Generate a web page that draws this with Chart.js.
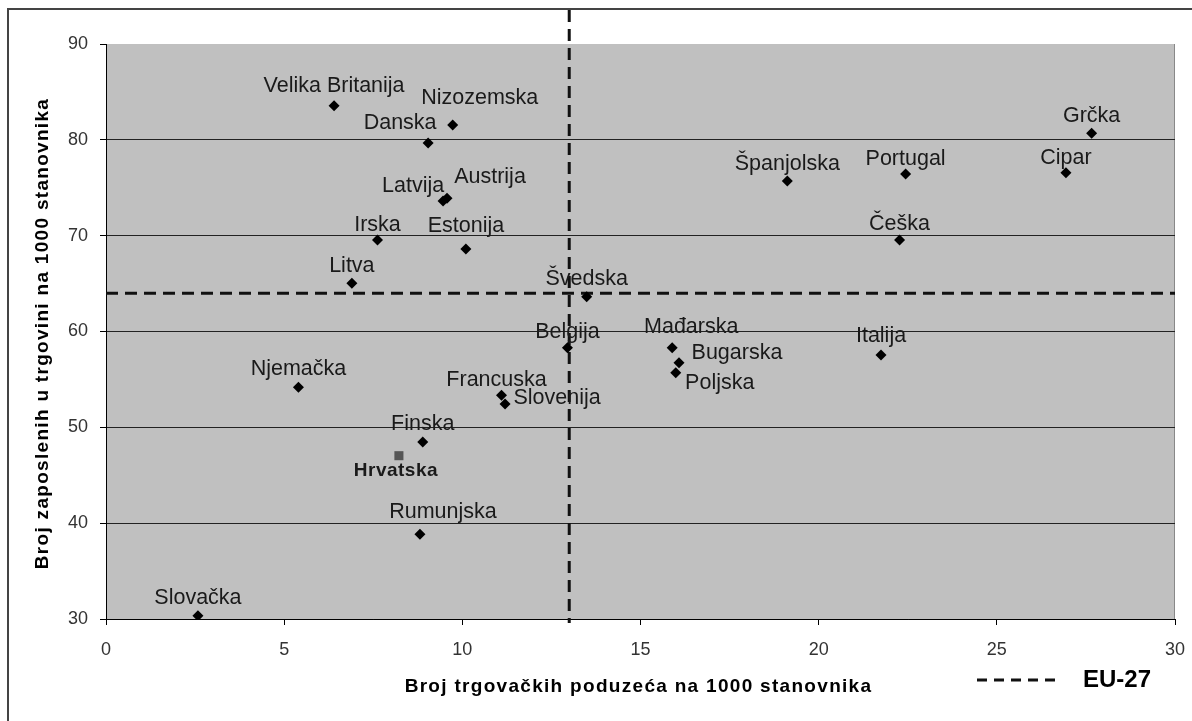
<!DOCTYPE html>
<html>
<head>
<meta charset="utf-8">
<script src="https://cdn.jsdelivr.net/npm/chart.js@4.4.1/dist/chart.umd.min.js"></script>
<style>
  html, body { margin: 0; background: #fff; }
  #wrap { width: 1192px; height: 721px; position: relative; }
</style>
</head>
<body>
<div id="wrap"><canvas id="chart"></canvas></div>
<script>
// EU countries: firms per 1000 inhabitants (x), employees in retail per 1000 inhabitants (y)
const countries = ['Velika Britanija', 'Nizozemska', 'Danska', 'Latvija', 'Austrija', 'Irska', 'Estonija',
  'Litva', 'Švedska', 'Belgija', 'Mađarska', 'Bugarska', 'Poljska', 'Francuska', 'Slovenija', 'Finska',
  'Njemačka', 'Rumunjska', 'Slovačka', 'Grčka', 'Portugal', 'Cipar', 'Španjolska', 'Češka', 'Italija']
const firmsPer1000 = [6.40, 9.73, 9.04, 9.46, 9.57, 7.62, 10.10, 6.90, 13.49, 12.95, 15.89, 16.08, 15.99,
  11.10, 11.20, 8.89, 5.40, 8.81, 2.58, 27.66, 22.44, 26.94, 19.12, 22.27, 21.75]
const employeesPer1000 = [83.56, 81.55, 79.67, 73.62, 73.90, 69.55, 68.62, 65.03, 63.63, 58.31, 58.31, 56.74,
  55.70, 53.34, 52.43, 48.47, 54.18, 38.84, 30.34, 80.68, 76.43, 76.57, 75.70, 69.55, 57.55]

const croatiaName = ['Hrvatska']
const croatiaFirms = [8.22]
const croatiaEmployees = [47.04]

// EU-27 average lines
const euFirms = 13
const euEmployees = 64

const xTitle = 'Broj trgovačkih poduzeća na 1000 stanovnika'
const yTitle = 'Broj zaposlenih u trgovini na 1000 stanovnika'
const legendText = 'EU-27'

// label placement relative to each marker (px)
const labelOffsets = [[0,-20],[27,-27],[-28,-20],[-30,-15],[43,-21],[0,-15],[0,-23],[0,-17],[0,-18],[0,-16],
  [19,-21],[58,-10],[44,10],[-5,-15],[52,-6],[0,-18],[0,-18],[23,-22],[0,-18],[0,-17],[0,-15],[0,-15],
  [0,-17],[0,-16],[0,-19]]
const croatiaOffset = [-3, 15]

const FONT = '"Liberation Sans", Arial, sans-serif'

const framePlugin = {
  id: 'frame',
  beforeDraw(chart) {
    const {ctx, chartArea: a} = chart
    ctx.save()
    ctx.fillStyle = '#c0c0c0'
    ctx.fillRect(a.left, a.top, a.right - a.left, a.bottom - a.top)
    ctx.strokeStyle = '#444'
    ctx.lineWidth = 2
    ctx.beginPath()
    ctx.moveTo(8, 721)
    ctx.lineTo(8, 9)
    ctx.lineTo(1192, 9)
    ctx.stroke()
    ctx.strokeStyle = '#888'
    ctx.lineWidth = 1
    ctx.beginPath()
    ctx.moveTo(a.right - 0.5, a.top)
    ctx.lineTo(a.right - 0.5, a.bottom)
    ctx.stroke()
    ctx.restore()
  }
}

const euLinesPlugin = {
  id: 'euLines',
  beforeDatasetsDraw(chart) {
    const {ctx, chartArea: a, scales} = chart
    const px = scales.x.getPixelForValue(euFirms)
    const py = scales.y.getPixelForValue(euEmployees)
    ctx.save()
    ctx.strokeStyle = '#111'
    ctx.lineWidth = 3
    ctx.setLineDash([12, 7])
    ctx.beginPath()
    ctx.moveTo(px, 10)
    ctx.lineTo(px, a.bottom + 4)
    ctx.moveTo(a.left, py)
    ctx.lineTo(a.right, py)
    ctx.stroke()
    ctx.restore()
  }
}

// axis titles drawn by hand so the wide letter spacing of the original can be kept
const axisTitlesPlugin = {
  id: 'axisTitles',
  afterDraw(chart) {
    const {ctx, chartArea: a} = chart
    ctx.save()
    ctx.fillStyle = '#000'
    ctx.font = 'bold 19px ' + FONT
    ctx.letterSpacing = '1.3px'
    ctx.textAlign = 'center'
    ctx.textBaseline = 'middle'
    ctx.fillText(xTitle, (a.left + a.right) / 2 - 2, 687)
    ctx.translate(43, (a.top + a.bottom) / 2 + 2)
    ctx.rotate(-Math.PI / 2)
    ctx.fillText(yTitle, 0, 0)
    ctx.restore()
  }
}

const labelsPlugin = {
  id: 'pointLabels',
  afterDatasetsDraw(chart) {
    const {ctx} = chart
    ctx.save()
    ctx.textAlign = 'center'
    ctx.textBaseline = 'middle'
    ctx.fillStyle = '#1a1a1a'
    ctx.font = '21.5px ' + FONT
    chart.getDatasetMeta(0).data.forEach((pt, i) => {
      ctx.fillText(countries[i], pt.x + labelOffsets[i][0], pt.y + labelOffsets[i][1])
    })
    ctx.font = 'bold 19px ' + FONT
    ctx.letterSpacing = '0.5px'
    chart.getDatasetMeta(1).data.forEach((pt, i) => {
      ctx.fillText(croatiaName[i], pt.x + croatiaOffset[0], pt.y + croatiaOffset[1])
    })
    ctx.restore()
  }
}

const legendPlugin = {
  id: 'euLegend',
  afterDraw(chart) {
    const {ctx} = chart
    ctx.save()
    ctx.strokeStyle = '#111'
    ctx.lineWidth = 3
    ctx.setLineDash([10, 7])
    ctx.beginPath()
    ctx.moveTo(977, 680)
    ctx.lineTo(1060, 680)
    ctx.stroke()
    ctx.fillStyle = '#000'
    ctx.font = 'bold 24px ' + FONT
    ctx.textAlign = 'left'
    ctx.textBaseline = 'middle'
    ctx.fillText(legendText, 1083, 680)
    ctx.restore()
  }
}

new Chart(document.getElementById('chart'), {
  type: 'scatter',
  data: {
    datasets: [
      {
        label: 'EU',
        data: countries.map((c, i) => ({x: firmsPer1000[i], y: employeesPer1000[i]})),
        pointStyle: 'rectRot',
        pointRadius: 5.5,
        backgroundColor: '#000',
        borderColor: '#000',
        borderWidth: 0,
      },
      {
        label: 'Hrvatska',
        data: croatiaName.map((c, i) => ({x: croatiaFirms[i], y: croatiaEmployees[i]})),
        pointStyle: 'rect',
        pointRadius: 6.4,
        backgroundColor: '#555',
        borderColor: '#555',
        borderWidth: 0,
      }
    ]
  },
  options: {
    animation: false,
    responsive: true,
    maintainAspectRatio: false,
    layout: { padding: { top: 44, right: 17, left: 0, bottom: 0 } },
    plugins: {
      legend: { display: false },
      tooltip: { enabled: false },
    },
    scales: {
      x: {
        type: 'linear',
        min: 0,
        max: 30,
        ticks: { stepSize: 5, color: '#333', padding: 14, font: { family: FONT, size: 18 } },
        grid: { drawOnChartArea: false, tickLength: 6, tickColor: '#000' },
        border: { color: '#000', width: 1 },
        afterFit: s => { s.height = 102; s.paddingLeft = 0; s.paddingRight = 0 }
      },
      y: {
        type: 'linear',
        min: 30,
        max: 90,
        ticks: { stepSize: 10, color: '#333', padding: 12, font: { family: FONT, size: 18 } },
        grid: {
          color: c => (c.tick && c.tick.value === 90) ? 'rgba(0,0,0,0)' : '#222',
          tickLength: 6,
          tickColor: '#000'
        },
        border: { color: '#000', width: 1 },
        afterFit: s => { s.width = 106 }
      }
    }
  },
  plugins: [framePlugin, euLinesPlugin, labelsPlugin, axisTitlesPlugin, legendPlugin]
})
</script>
</body>
</html>
